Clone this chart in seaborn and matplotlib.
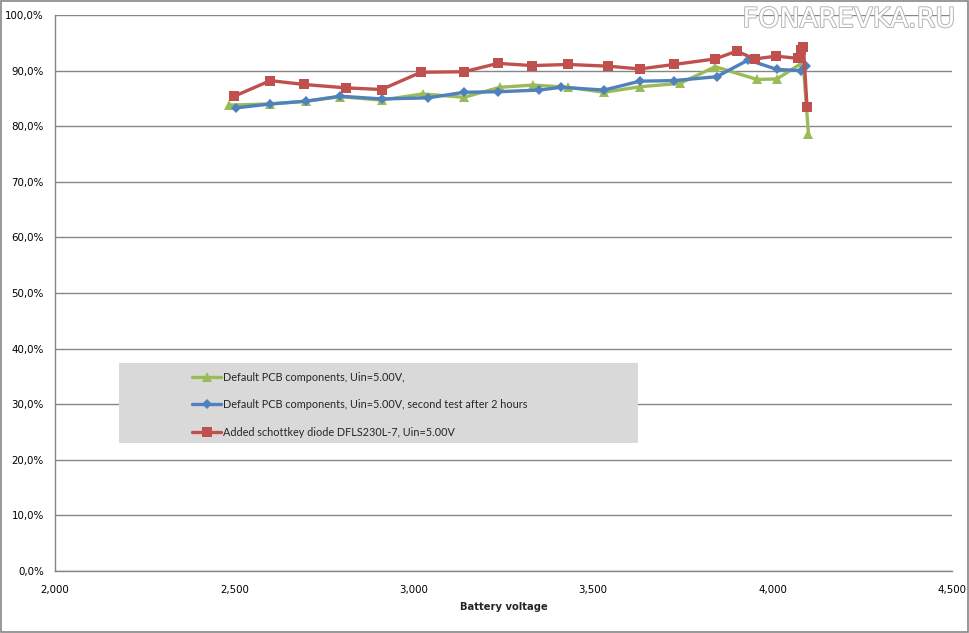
import matplotlib
matplotlib.use("Agg")
import matplotlib.pyplot as plt
import matplotlib.patheffects as pe
from matplotlib.patches import Rectangle
from matplotlib.ticker import FuncFormatter, MultipleLocator
import seaborn as sns
import pandas as pd

# ---- data ----
green_label = "Default PCB components, Uin=5.00V,"
green_v = [2485, 2600, 2700, 2795, 2910, 3025, 3140, 3240, 3333, 3430, 3530, 3630,
           3742, 3840, 3957, 4012, 4085, 4100]
green_eff = [83.8, 84.0, 84.5, 85.3, 84.7, 85.8, 85.2, 87.0, 87.4, 87.0, 86.1, 87.1,
             87.7, 90.7, 88.4, 88.5, 91.5, 78.6]

blue_label = "Default PCB components, Uin=5.00V, second test after 2 hours"
blue_v = [2505, 2600, 2700, 2795, 2910, 3040, 3140, 3235, 3350, 3410, 3530, 3630,
          3725, 3844, 3932, 4013, 4079, 4093]
blue_eff = [83.3, 84.0, 84.5, 85.4, 84.9, 85.1, 86.1, 86.2, 86.5, 87.0, 86.5, 88.1,
            88.2, 88.9, 91.9, 90.2, 90.0, 90.8]

red_label = "Added schottkey diode DFLS230L-7, Uin=5.00V"
red_v = [2500, 2600, 2695, 2810, 2910, 3020, 3140, 3235, 3330, 3430, 3540, 3630,
         3725, 3840, 3900, 3950, 4010, 4070, 4080, 4086, 4096]
red_eff = [85.4, 88.2, 87.5, 86.9, 86.6, 89.7, 89.8, 91.3, 90.9, 91.1, 90.8, 90.3,
           91.1, 92.1, 93.5, 92.1, 92.6, 92.2, 93.7, 94.2, 83.4]

x_label = "Battery voltage"
watermark = "FONAREVKA.RU"

sns.set_theme(style="white")
plt.rcParams["font.family"] = ["DejaVu Sans"]

fig = plt.figure(figsize=(9.7, 6.33), dpi=100)
ax = fig.add_axes([55 / 970, 62 / 633, 897 / 970, 556 / 633])

series = [
    (green_label, green_v, green_eff, "#9BBB59", "^", 7),
    (blue_label, blue_v, blue_eff, "#4F81BD", "D", 5),
    (red_label, red_v, red_eff, "#C0504D", "s", 6.5),
]
for label, v, e, color, mk, ms in series:
    df = pd.DataFrame({"v": v, "e": e})
    sns.lineplot(data=df, x="v", y="e", ax=ax, sort=False, color=color,
                 linewidth=2.4, marker=mk, markersize=ms, markeredgewidth=0,
                 label=label, zorder=3)

ax.set_xlim(2000, 4500)
ax.set_ylim(0, 100)
ax.xaxis.set_major_locator(MultipleLocator(500))
ax.yaxis.set_major_locator(MultipleLocator(10))
ax.xaxis.set_major_formatter(FuncFormatter(lambda x, p: f"{int(x):,}"))
ax.yaxis.set_major_formatter(FuncFormatter(lambda y, p: f"{y:.1f}".replace(".", ",") + "%"))

ax.grid(axis="y", color="#868686", linewidth=1)
ax.set_axisbelow(True)
for s in ["top", "right"]:
    ax.spines[s].set_visible(False)
for s in ["left", "bottom"]:
    ax.spines[s].set_color("#868686")
    ax.spines[s].set_linewidth(1)
ax.tick_params(axis="both", which="major", direction="out", length=5, width=1,
               color="#868686", labelsize=7.4, labelcolor="black", pad=3)
ax.tick_params(axis="x", pad=5)
ax.set_xlabel(x_label, fontsize=7.2, fontweight="bold", labelpad=5)
ax.set_ylabel("")

# legend box
ax.add_patch(Rectangle(((119 - 55) / 897, (571 - 443) / 556), (638 - 119) / 897,
                       80 / 556, transform=ax.transAxes, facecolor="#d9d9d9",
                       edgecolor="none", zorder=4))
leg = ax.legend(loc="upper left", bbox_to_anchor=((192 - 55) / 897, (571 - 372) / 556),
                frameon=False, prop={"family": "Lato", "size": 7.8},
                handlelength=2.7, handletextpad=0.15,
                labelspacing=1.5, borderaxespad=0, borderpad=0)
leg.set_zorder(5)

# watermark
fig.text(955 / 970, 1 - 20 / 633, watermark, ha="right", va="center", fontsize=19.5,
         color="white",
         path_effects=[pe.withStroke(linewidth=1.4, foreground="#b4b4b4")])

# chart border
fig.patches.append(Rectangle((0.001, 0.002), 0.997, 0.996, transform=fig.transFigure,
                             fill=False, edgecolor="#868686", linewidth=1.2))

fig.savefig("out.png", dpi=100)
